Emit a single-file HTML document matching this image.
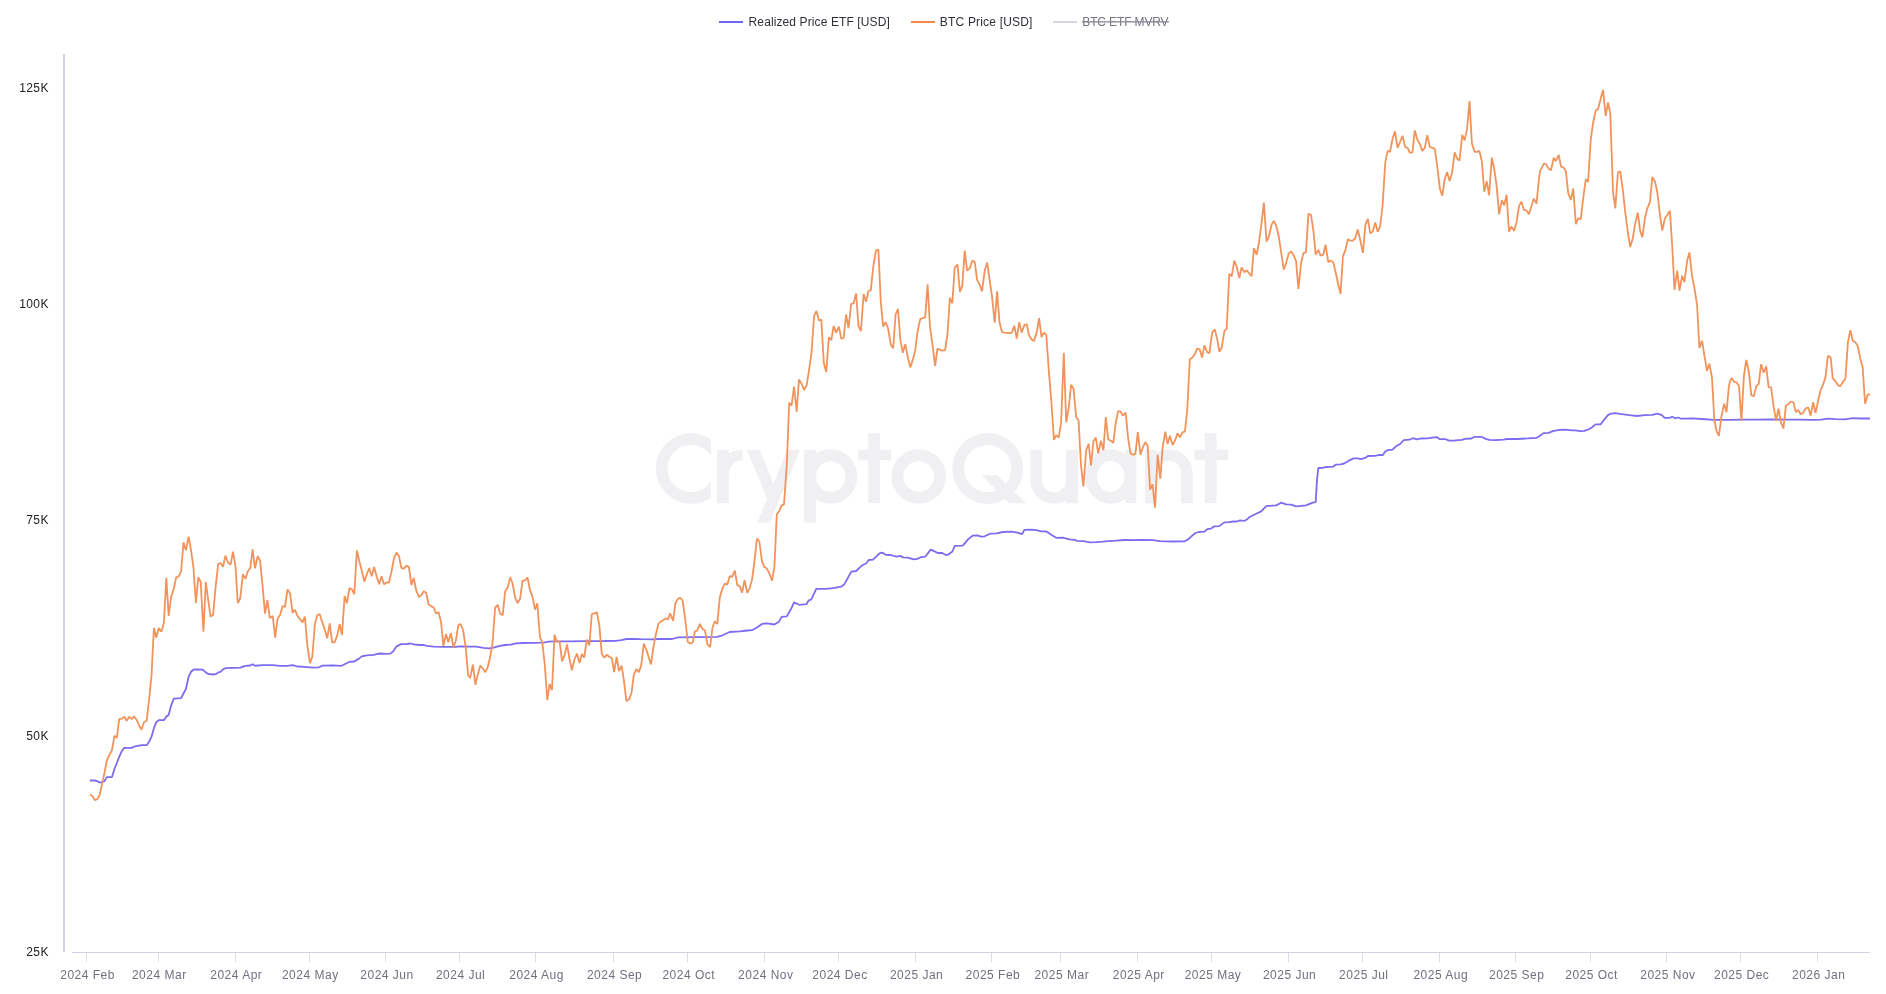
<!DOCTYPE html>
<html><head><meta charset="utf-8"><title>chart</title>
<style>
html,body{margin:0;padding:0;background:#fff;}
body{width:1886px;height:994px;overflow:hidden;font-family:"Liberation Sans",sans-serif;}
svg{display:block}
.xl{font-family:"Liberation Sans",sans-serif;font-size:12px;fill:#70707e;letter-spacing:0.5px}
.yl{font-family:"Liberation Sans",sans-serif;font-size:12px;fill:#222228;letter-spacing:0.4px}
.lg{font-family:"Liberation Sans",sans-serif;font-size:12px;fill:#2f2f38;}
.wm{font-family:"Liberation Sans",sans-serif;font-size:97px;fill:#f1f1f4;stroke:#f1f1f4;stroke-width:3px;font-weight:normal}
</style></head><body>
<svg width="1886" height="994" viewBox="0 0 1886 994" style="will-change:transform">
<g id="wm" fill="#f0f0f3" stroke="none">
<defs><clipPath id="cc"><rect x="640" y="420" width="71" height="100"/></clipPath></defs>
<circle cx="691.1" cy="468.5" r="29.45" fill="none" stroke="#f0f0f3" stroke-width="11.8" clip-path="url(#cc)"/>
<rect x="717.05" y="449.7" width="11.75" height="53.5"/>
<path d="M722.9,482 C722.9,463 731,455 742.5,455" fill="none" stroke="#f0f0f3" stroke-width="10.6"/>
<polygon points="746.8,449.7 759.5,449.7 779.8,498.6 767.1,498.6"/>
<polygon points="787.4,449.7 800.1,449.7 769.9,522.6 757.1,522.6"/>
<rect x="804.1" y="449.7" width="11.9" height="72.9"/>
<ellipse cx="830.7" cy="476.5" rx="20.6" ry="21.3" fill="none" stroke="#f0f0f3" stroke-width="12"/>
<rect x="868.2" y="433.2" width="11.7" height="70"/>
<rect x="858.1" y="449.7" width="33" height="10.5"/>
<circle cx="918.7" cy="476.5" r="21.3" fill="none" stroke="#f0f0f3" stroke-width="12"/>
<circle cx="987.7" cy="468.5" r="29.5" fill="none" stroke="#f0f0f3" stroke-width="11.8"/>
<polygon points="981.1,474.9 997,474.9 1026.5,503.2 1009,503.2"/>
<path d="M1036.2,449.7 V480.1 A17.9,17.9 0 0 0 1072,480.1 V449.7" fill="none" stroke="#f0f0f3" stroke-width="11.6"/>
<rect x="1066.2" y="449.7" width="11.5" height="53.5"/>
<ellipse cx="1110.75" cy="476.5" rx="19.6" ry="21.3" fill="none" stroke="#f0f0f3" stroke-width="11.8"/>
<rect x="1125.1" y="449.7" width="11.1" height="53.5"/>
<rect x="1145" y="449.7" width="11.6" height="53.5"/>
<path d="M1150.8,503.2 V473 A18.05,18.05 0 0 1 1186.9,473 V503.2" fill="none" stroke="#f0f0f3" stroke-width="11.6"/>
<rect x="1204.9" y="433.2" width="11.7" height="70"/>
<rect x="1194.6" y="449.7" width="33.6" height="10.5"/>
</g>
<rect x="63" y="54" width="2" height="898" fill="#d3d2e1"/>
<rect x="72" y="952" width="1798" height="1" fill="#d3d2e1"/>
<rect x="86" y="953" width="1" height="9" fill="#dcdce8"/><rect x="158" y="953" width="1" height="9" fill="#dcdce8"/><rect x="235" y="953" width="1" height="9" fill="#dcdce8"/><rect x="309" y="953" width="1" height="9" fill="#dcdce8"/><rect x="385" y="953" width="1" height="9" fill="#dcdce8"/><rect x="459" y="953" width="1" height="9" fill="#dcdce8"/><rect x="535" y="953" width="1" height="9" fill="#dcdce8"/><rect x="613" y="953" width="1" height="9" fill="#dcdce8"/><rect x="687" y="953" width="1" height="9" fill="#dcdce8"/><rect x="764" y="953" width="1" height="9" fill="#dcdce8"/><rect x="838" y="953" width="1" height="9" fill="#dcdce8"/><rect x="915" y="953" width="1" height="9" fill="#dcdce8"/><rect x="991" y="953" width="1" height="9" fill="#dcdce8"/><rect x="1060" y="953" width="1" height="9" fill="#dcdce8"/><rect x="1137" y="953" width="1" height="9" fill="#dcdce8"/><rect x="1211" y="953" width="1" height="9" fill="#dcdce8"/><rect x="1288" y="953" width="1" height="9" fill="#dcdce8"/><rect x="1362" y="953" width="1" height="9" fill="#dcdce8"/><rect x="1439" y="953" width="1" height="9" fill="#dcdce8"/><rect x="1515" y="953" width="1" height="9" fill="#dcdce8"/><rect x="1590" y="953" width="1" height="9" fill="#dcdce8"/><rect x="1666" y="953" width="1" height="9" fill="#dcdce8"/><rect x="1740" y="953" width="1" height="9" fill="#dcdce8"/><rect x="1817" y="953" width="1" height="9" fill="#dcdce8"/>
<text x="87.6" y="978.5" text-anchor="middle" class="xl">2024 Feb</text><text x="159.3" y="978.5" text-anchor="middle" class="xl">2024 Mar</text><text x="236.3" y="978.5" text-anchor="middle" class="xl">2024 Apr</text><text x="310.3" y="978.5" text-anchor="middle" class="xl">2024 May</text><text x="387.0" y="978.5" text-anchor="middle" class="xl">2024 Jun</text><text x="460.6" y="978.5" text-anchor="middle" class="xl">2024 Jul</text><text x="536.6" y="978.5" text-anchor="middle" class="xl">2024 Aug</text><text x="614.6" y="978.5" text-anchor="middle" class="xl">2024 Sep</text><text x="688.8" y="978.5" text-anchor="middle" class="xl">2024 Oct</text><text x="765.8" y="978.5" text-anchor="middle" class="xl">2024 Nov</text><text x="840.0" y="978.5" text-anchor="middle" class="xl">2024 Dec</text><text x="916.6" y="978.5" text-anchor="middle" class="xl">2025 Jan</text><text x="992.9" y="978.5" text-anchor="middle" class="xl">2025 Feb</text><text x="1061.8" y="978.5" text-anchor="middle" class="xl">2025 Mar</text><text x="1138.8" y="978.5" text-anchor="middle" class="xl">2025 Apr</text><text x="1213.0" y="978.5" text-anchor="middle" class="xl">2025 May</text><text x="1289.6" y="978.5" text-anchor="middle" class="xl">2025 Jun</text><text x="1363.8" y="978.5" text-anchor="middle" class="xl">2025 Jul</text><text x="1440.8" y="978.5" text-anchor="middle" class="xl">2025 Aug</text><text x="1516.7" y="978.5" text-anchor="middle" class="xl">2025 Sep</text><text x="1591.6" y="978.5" text-anchor="middle" class="xl">2025 Oct</text><text x="1667.9" y="978.5" text-anchor="middle" class="xl">2025 Nov</text><text x="1741.7" y="978.5" text-anchor="middle" class="xl">2025 Dec</text><text x="1818.7" y="978.5" text-anchor="middle" class="xl">2026 Jan</text>
<text x="48.8" y="91.8" text-anchor="end" class="yl">125K</text><text x="48.8" y="307.8" text-anchor="end" class="yl">100K</text><text x="48.8" y="523.8" text-anchor="end" class="yl">75K</text><text x="48.8" y="739.8" text-anchor="end" class="yl">50K</text><text x="48.8" y="955.8" text-anchor="end" class="yl">25K</text>
<g fill="none" stroke-linejoin="bevel" stroke-linecap="butt">
<path d="M89.9,780.5 L94.7,780.5 L97.2,781.1 L99.6,782.6 L102.3,782.0 L104.4,781.4 L106.8,777.1 L112.0,777.1 L114.4,769.0 L116.8,763.0 L119.2,756.9 L121.9,750.9 L124.3,747.9 L131.6,747.9 L134.0,746.7 L141.5,745.2 L146.7,745.2 L149.1,741.8 L151.5,736.7 L153.9,728.2 L156.3,722.2 L158.7,720.1 L163.9,720.1 L166.3,716.8 L168.7,714.7 L171.1,705.6 L173.8,698.7 L181.1,698.1 L183.5,693.5 L185.9,689.0 L188.6,676.9 L191.0,671.8 L193.4,669.7 L195.9,669.4 L202.8,669.7 L205.8,672.4 L208.2,673.9 L213.1,674.5 L216.4,673.9 L218.2,672.4 L220.6,671.8 L223.0,669.4 L225.4,668.2 L233.0,667.9 L240.5,667.6 L242.9,666.7 L245.4,665.8 L250.2,665.5 L252.6,664.3 L255.0,665.8 L257.7,665.5 L263.2,665.2 L269.8,665.2 L272.7,665.1 L279.9,665.8 L287.2,665.8 L292.6,665.1 L297.5,666.5 L304.9,666.9 L312.5,667.6 L318.9,667.3 L322.5,665.6 L332.4,665.3 L341.5,665.8 L345.1,664.0 L349.5,661.8 L354.2,661.5 L358.7,658.9 L361.8,656.4 L366.8,655.3 L374.1,654.9 L376.8,654.0 L381.3,653.5 L384.9,653.9 L390.4,653.7 L393.1,651.3 L396.5,646.4 L401.2,644.1 L406.7,644.1 L410.3,643.5 L413.9,644.4 L419.4,645.0 L423.9,645.0 L426.6,645.9 L433.8,646.6 L442.9,646.8 L455.6,646.8 L461.0,646.3 L470.1,646.6 L476.3,646.6 L483.5,647.9 L489.0,648.4 L492.6,647.9 L499.8,645.9 L505.3,645.0 L510.7,644.6 L516.1,643.4 L523.4,643.0 L532.4,642.8 L543.3,642.6 L548.7,641.7 L554.2,641.4 L568.7,641.4 L586.8,641.2 L604.9,641.0 L615.7,640.8 L621.2,640.1 L626.6,639.0 L633.8,638.8 L641.1,639.2 L652.0,639.4 L659.2,639.0 L670.1,639.0 L672.1,639.0 L678.1,637.4 L696.2,637.1 L717.3,636.8 L722.5,635.3 L729.7,632.0 L739.7,631.4 L747.5,630.5 L752.1,630.2 L756.9,627.5 L762.0,623.9 L766.8,623.3 L774.4,624.5 L779.2,621.4 L781.6,616.9 L786.8,616.3 L791.6,607.9 L794.0,602.4 L799.1,604.8 L806.4,604.2 L808.8,600.3 L811.2,599.7 L816.3,588.9 L826.0,588.9 L833.5,588.2 L841.1,586.7 L844.1,584.6 L851.3,571.6 L856.2,571.0 L860.1,567.1 L862.8,565.0 L866.1,563.5 L868.7,560.0 L873.0,559.6 L878.0,554.8 L880.7,552.6 L883.0,553.0 L885.7,554.8 L890.4,555.0 L896.5,556.7 L900.4,555.9 L903.0,557.4 L907.4,557.6 L913.9,559.3 L917.2,558.9 L920.9,557.2 L925.2,556.7 L930.7,549.6 L933.5,550.9 L937.8,553.0 L942.2,553.0 L945.4,554.8 L948.0,554.8 L952.4,551.5 L954.8,545.9 L962.8,545.7 L968.3,539.1 L972.6,535.7 L977.0,535.4 L981.3,536.7 L984.6,536.3 L990.0,533.7 L996.5,533.3 L1003.0,532.0 L1011.7,531.7 L1017.2,532.6 L1022.2,534.1 L1024.3,529.8 L1031.3,529.6 L1036.7,530.2 L1041.1,531.3 L1046.5,531.5 L1052.0,535.2 L1056.3,537.8 L1062.8,537.6 L1069.3,539.3 L1074.8,539.8 L1077.0,540.9 L1083.5,541.1 L1090.0,542.4 L1096.5,542.2 L1103.0,541.7 L1107.4,541.1 L1116.1,540.7 L1124.8,540.0 L1133.5,540.2 L1141.1,539.8 L1153.0,540.2 L1159.6,541.1 L1172.6,541.5 L1184.6,541.3 L1187.8,539.6 L1192.2,535.7 L1195.4,533.0 L1198.7,532.0 L1204.1,531.7 L1207.4,529.1 L1210.7,528.7 L1214.3,526.3 L1219.3,526.1 L1224.3,522.4 L1229.1,522.2 L1233.5,521.5 L1236.7,521.5 L1240.0,520.4 L1244.3,520.9 L1247.6,518.9 L1250.0,516.7 L1256.2,513.7 L1261.2,511.4 L1266.2,506.1 L1276.2,505.4 L1281.1,502.7 L1286.1,504.4 L1291.1,504.7 L1296.1,506.4 L1306.0,505.4 L1312.7,502.7 L1315.7,502.1 L1317.0,479.9 L1318.3,468.0 L1322.9,467.9 L1325.5,467.0 L1333.1,466.7 L1335.6,464.7 L1340.7,464.3 L1344.1,463.5 L1348.4,460.9 L1353.4,458.4 L1357.7,458.4 L1360.7,459.1 L1365.3,457.9 L1367.9,456.0 L1374.7,455.8 L1379.7,454.8 L1382.8,455.2 L1384.8,452.1 L1387.4,450.2 L1392.5,449.7 L1395.9,446.3 L1400.1,444.0 L1403.8,440.1 L1409.4,439.7 L1412.8,438.2 L1417.1,439.4 L1420.5,438.5 L1427.3,438.4 L1432.3,437.7 L1437.1,437.2 L1439.5,439.0 L1445.1,439.2 L1449.3,440.6 L1454.4,440.7 L1457.8,440.1 L1462.0,439.9 L1464.6,438.9 L1471.4,438.5 L1474.8,436.8 L1481.5,436.8 L1485.8,438.9 L1489.2,439.9 L1495.1,440.1 L1503.6,439.7 L1507.0,439.0 L1517.2,439.0 L1527.4,438.4 L1536.7,437.8 L1540.1,435.8 L1543.5,433.1 L1548.6,432.9 L1552.8,431.2 L1559.6,429.9 L1565.5,429.7 L1571.5,430.4 L1575.7,430.4 L1580.0,431.1 L1584.2,430.9 L1588.4,429.5 L1591.8,427.5 L1595.6,424.4 L1600.7,424.3 L1603.7,420.2 L1608.0,415.1 L1610.5,413.8 L1614.7,413.2 L1620.0,413.8 L1621.8,414.1 L1629.4,415.2 L1637.0,416.0 L1644.7,415.2 L1652.3,414.8 L1657.3,413.7 L1661.9,415.2 L1664.6,417.9 L1669.5,417.9 L1672.2,416.7 L1675.3,418.3 L1678.3,417.5 L1681.0,418.7 L1686.7,418.7 L1692.5,418.3 L1702.0,419.0 L1713.5,419.8 L1729.9,419.8 L1742.3,419.6 L1756.3,419.6 L1770.4,419.4 L1784.5,419.6 L1798.6,419.6 L1812.7,419.9 L1821.1,419.6 L1828.2,418.7 L1835.2,419.2 L1845.1,419.4 L1852.8,418.2 L1860.6,418.5 L1870.0,418.5" stroke="#7b6cf0" stroke-width="1.8"/>
<path d="M89.9,794.6 L92.6,796.2 L94.7,800.1 L97.2,799.2 L99.6,795.3 L102.3,782.6 L104.7,772.0 L106.8,760.5 L109.5,754.8 L112.0,750.0 L114.4,735.8 L116.8,737.9 L119.2,719.2 L121.9,718.6 L124.3,716.8 L126.7,720.7 L129.2,716.8 L131.6,719.2 L134.0,716.2 L136.7,720.1 L139.1,725.2 L141.5,729.8 L143.9,722.2 L146.7,720.7 L149.1,699.6 L151.5,675.4 L153.9,628.0 L156.3,637.7 L158.7,628.0 L161.4,631.7 L163.9,622.6 L166.3,577.9 L168.7,616.0 L171.1,597.0 L173.8,588.8 L176.2,577.3 L178.7,576.4 L181.1,571.3 L183.5,542.6 L185.9,550.2 L188.6,536.6 L191.0,550.2 L193.4,566.8 L195.9,603.0 L198.3,577.3 L200.7,581.9 L203.4,631.7 L205.8,581.9 L208.2,600.0 L210.6,616.6 L213.1,615.1 L215.5,587.9 L218.2,563.8 L220.6,563.2 L223.0,566.8 L225.4,555.6 L227.8,562.3 L230.6,564.7 L233.0,551.7 L235.4,565.3 L237.8,603.0 L240.2,598.5 L242.9,574.3 L245.4,578.9 L247.8,571.3 L250.2,568.3 L252.6,549.3 L255.0,568.3 L257.7,556.2 L260.1,560.7 L262.6,586.4 L265.0,613.6 L267.4,600.0 L269.8,618.1 L272.7,616.0 L275.2,637.7 L277.6,618.7 L280.1,615.1 L282.6,606.1 L285.0,607.0 L287.5,589.4 L290.1,593.4 L292.6,612.9 L294.9,609.7 L297.5,616.0 L300.0,619.1 L302.6,622.4 L304.9,616.6 L307.4,645.9 L310.0,663.1 L312.3,656.8 L314.9,624.2 L317.2,615.1 L319.8,614.2 L322.3,622.4 L324.8,629.6 L327.2,638.3 L329.7,623.3 L332.1,642.3 L334.6,642.3 L337.1,635.9 L339.7,624.2 L342.0,635.0 L344.6,596.1 L346.9,603.3 L349.5,587.9 L352.0,589.4 L354.3,594.3 L356.9,550.5 L359.2,560.8 L361.8,570.7 L364.3,581.6 L366.8,574.4 L369.2,568.0 L371.7,576.2 L374.1,567.1 L376.6,576.2 L379.2,584.3 L381.5,576.2 L384.0,584.3 L386.6,582.5 L388.9,582.5 L391.5,571.6 L394.0,558.1 L396.5,552.6 L398.9,555.9 L401.4,568.0 L404.0,568.6 L406.3,565.7 L408.9,566.8 L411.4,585.2 L413.7,578.0 L416.3,590.7 L418.8,597.0 L421.2,595.2 L423.7,591.2 L426.1,592.8 L428.6,604.2 L431.1,606.1 L433.7,607.5 L436.0,613.3 L438.6,612.4 L441.1,622.4 L443.4,645.9 L446.0,634.1 L448.3,642.3 L450.9,633.2 L453.4,647.3 L455.9,640.5 L458.3,625.1 L460.6,624.2 L463.2,630.5 L465.7,647.7 L468.1,674.9 L470.1,678.1 L472.9,664.5 L475.4,684.8 L477.7,674.9 L480.3,665.5 L482.8,668.5 L485.4,672.2 L487.7,667.3 L490.2,656.8 L492.6,642.3 L495.1,607.9 L497.7,604.8 L500.2,613.7 L502.7,615.1 L505.1,591.6 L507.6,587.6 L510.2,577.4 L512.7,584.0 L515.2,597.9 L517.6,603.0 L520.1,598.8 L522.5,580.7 L525.0,580.7 L527.5,577.4 L529.9,589.8 L532.4,596.1 L535.0,609.7 L537.3,603.3 L539.9,636.8 L542.4,643.2 L544.7,664.0 L547.3,700.2 L549.6,683.9 L552.0,690.3 L554.5,634.7 L557.1,641.9 L559.6,641.4 L562.1,661.3 L564.7,654.9 L567.0,644.4 L569.6,659.5 L571.9,670.3 L574.4,659.5 L577.0,653.7 L579.5,663.1 L581.9,654.0 L584.2,657.7 L586.8,639.6 L589.3,645.5 L591.8,614.2 L594.4,613.3 L596.9,612.4 L599.3,625.1 L601.8,654.0 L604.3,657.7 L606.7,654.6 L609.2,656.8 L611.8,658.0 L614.1,672.2 L616.6,656.8 L619.0,671.2 L621.5,665.5 L623.9,680.3 L626.4,701.1 L629.0,699.3 L631.5,693.0 L633.8,674.9 L636.4,669.1 L638.9,672.2 L641.3,664.9 L643.8,643.7 L646.3,649.5 L651.0,664.4 L653.6,645.9 L656.1,633.2 L658.5,623.6 L661.0,621.4 L663.5,620.0 L666.1,618.2 L668.1,619.6 L670.1,613.3 L673.0,620.8 L675.4,603.3 L677.8,598.8 L680.2,597.9 L682.6,600.3 L685.1,618.4 L687.8,642.0 L690.2,643.5 L692.6,642.6 L695.0,631.4 L697.4,630.5 L699.8,623.9 L702.6,629.0 L705.0,630.5 L707.4,644.1 L710.1,647.1 L712.5,627.5 L714.9,621.4 L717.3,623.9 L719.8,597.3 L722.5,588.2 L724.9,583.7 L727.3,584.6 L729.7,576.2 L732.1,576.8 L734.8,570.7 L737.3,585.2 L739.7,586.1 L742.1,592.8 L744.5,580.1 L747.2,592.8 L749.6,588.2 L752.1,579.2 L754.5,561.1 L756.9,538.5 L759.3,541.5 L762.0,561.1 L764.4,567.1 L766.8,568.6 L769.3,573.2 L772.0,580.7 L774.4,567.1 L776.8,514.3 L779.2,511.3 L781.6,505.3 L784.0,504.6 L786.8,464.5 L789.2,402.6 L791.6,405.7 L794.0,386.6 L796.7,411.7 L799.0,379.4 L801.7,383.9 L804.1,390.0 L806.6,385.4 L809.0,370.3 L811.4,353.7 L814.1,316.0 L816.5,310.9 L818.9,320.5 L821.3,319.6 L823.8,362.8 L826.2,371.9 L828.9,337.1 L831.3,340.2 L833.7,326.0 L836.1,332.6 L838.9,326.6 L841.3,338.7 L843.7,338.0 L846.1,314.5 L848.5,328.1 L851.2,303.9 L853.6,303.3 L856.1,293.4 L858.5,326.0 L860.9,331.1 L863.6,294.0 L866.0,301.8 L868.4,291.0 L870.8,290.4 L873.3,266.2 L876.0,250.5 L878.4,249.6 L880.8,302.4 L883.2,326.6 L885.6,322.1 L888.0,328.1 L890.8,344.7 L893.2,348.3 L895.6,314.5 L898.0,309.1 L900.4,340.2 L902.8,352.8 L905.3,344.1 L908.0,358.3 L910.4,367.3 L912.8,359.8 L915.2,350.7 L917.6,331.1 L920.3,319.0 L922.8,318.1 L925.2,317.5 L927.6,284.3 L930.0,327.2 L932.7,346.2 L935.1,365.8 L937.5,348.6 L940.0,349.8 L942.4,350.7 L945.1,350.1 L947.5,334.1 L949.9,297.9 L952.3,303.3 L954.7,267.7 L957.5,264.7 L959.9,291.9 L962.3,285.8 L964.7,250.5 L967.1,270.7 L969.8,268.3 L972.3,260.8 L974.7,261.7 L977.1,279.8 L979.5,284.3 L982.0,291.3 L984.7,270.7 L987.2,262.6 L989.6,279.8 L992.0,296.4 L994.7,322.7 L997.1,291.3 L999.5,322.1 L1002.0,332.0 L1004.4,332.6 L1009.5,333.2 L1011.9,332.6 L1014.3,325.7 L1016.7,338.7 L1019.2,322.1 L1021.6,332.6 L1024.3,325.1 L1026.7,324.2 L1029.1,335.6 L1031.5,339.3 L1033.9,341.1 L1036.7,332.6 L1039.1,318.1 L1041.5,337.1 L1043.9,332.6 L1046.3,335.0 L1049.0,373.4 L1051.4,402.0 L1053.9,439.8 L1056.3,435.2 L1058.7,437.6 L1061.1,423.2 L1063.8,352.8 L1066.2,422.3 L1068.7,408.1 L1071.1,384.8 L1073.5,388.5 L1076.2,417.1 L1078.6,420.7 L1081.0,465.4 L1083.4,486.5 L1086.2,450.3 L1088.6,443.7 L1091.0,465.4 L1093.4,441.3 L1095.8,437.6 L1098.2,453.3 L1100.9,440.7 L1103.4,450.3 L1105.8,417.1 L1108.2,439.2 L1110.6,440.7 L1113.3,442.8 L1115.7,423.2 L1118.1,411.1 L1120.6,411.7 L1123.0,415.6 L1125.7,412.6 L1128.1,438.2 L1130.5,453.3 L1132.9,454.8 L1135.4,453.9 L1137.8,432.2 L1140.5,454.8 L1142.9,447.3 L1145.3,442.2 L1147.7,445.8 L1150.1,489.6 L1152.6,484.4 L1155.0,507.7 L1157.7,454.8 L1160.3,478.8 L1162.6,447.3 L1165.3,431.7 L1167.6,444.0 L1169.9,435.7 L1172.6,445.0 L1174.9,440.7 L1177.6,433.4 L1179.9,437.3 L1182.5,432.4 L1184.9,431.7 L1187.2,410.8 L1189.8,359.3 L1192.2,357.7 L1194.8,354.3 L1197.1,348.7 L1199.8,349.4 L1202.1,357.7 L1204.4,345.4 L1207.1,352.0 L1209.4,353.3 L1212.1,332.8 L1214.7,329.4 L1217.1,338.7 L1219.4,351.7 L1221.7,347.7 L1224.4,331.1 L1226.7,328.8 L1229.3,273.7 L1231.7,276.3 L1234.3,260.7 L1236.6,266.4 L1239.3,278.0 L1241.6,267.4 L1244.3,272.3 L1246.6,270.3 L1248.9,273.0 L1251.6,276.3 L1253.9,248.1 L1256.6,254.7 L1258.9,243.1 L1261.5,223.2 L1263.9,202.6 L1266.5,241.5 L1268.9,236.5 L1271.5,224.9 L1273.8,220.9 L1276.2,225.9 L1278.8,236.5 L1281.5,254.7 L1283.8,269.7 L1286.1,263.0 L1288.8,253.1 L1291.1,251.4 L1293.8,255.7 L1296.1,261.4 L1298.4,288.9 L1301.1,263.0 L1303.4,253.1 L1306.0,252.4 L1308.4,213.9 L1311.0,214.9 L1313.3,229.8 L1315.7,254.7 L1318.3,249.8 L1320.6,255.7 L1323.3,254.7 L1325.6,244.8 L1328.3,262.4 L1330.6,260.4 L1333.3,262.4 L1335.6,272.3 L1337.9,283.0 L1340.6,293.9 L1342.9,256.4 L1345.5,249.8 L1347.9,239.1 L1349.9,240.5 L1353.0,240.6 L1355.4,237.8 L1357.8,229.4 L1360.2,240.0 L1362.9,252.9 L1365.4,224.9 L1367.8,218.8 L1370.2,233.3 L1372.6,231.8 L1375.3,222.5 L1377.7,231.8 L1380.1,226.4 L1382.6,205.3 L1385.3,162.4 L1387.7,150.9 L1390.1,151.8 L1392.5,138.9 L1394.9,131.3 L1397.6,147.9 L1400.1,141.9 L1402.5,135.8 L1405.2,147.0 L1407.6,147.9 L1410.0,153.0 L1412.4,152.4 L1414.8,130.4 L1417.6,140.4 L1420.0,144.3 L1422.4,150.9 L1424.8,147.9 L1427.2,135.2 L1429.9,147.0 L1432.4,147.9 L1434.8,148.8 L1437.2,166.0 L1439.9,188.7 L1442.3,195.6 L1444.7,179.0 L1447.1,172.1 L1449.6,181.1 L1452.0,173.0 L1454.7,152.4 L1457.1,158.5 L1459.5,160.6 L1462.2,134.9 L1464.6,140.4 L1467.1,128.9 L1469.5,101.1 L1471.9,143.4 L1474.6,151.8 L1477.0,151.8 L1479.4,150.9 L1481.9,161.5 L1484.3,191.7 L1486.7,181.1 L1489.1,195.3 L1491.8,157.6 L1494.2,169.0 L1496.6,185.6 L1499.1,214.3 L1501.8,200.1 L1504.2,205.3 L1506.6,194.7 L1509.0,231.8 L1511.4,226.4 L1514.1,230.9 L1516.6,221.9 L1519.0,206.2 L1521.4,201.6 L1523.8,209.8 L1526.5,210.4 L1528.9,214.3 L1531.3,206.8 L1533.8,198.6 L1536.5,203.7 L1538.9,179.6 L1540.1,170.5 L1541.1,169.4 L1543.8,163.7 L1546.1,164.4 L1548.7,168.6 L1551.0,170.2 L1553.7,157.9 L1556.0,161.0 L1558.7,154.9 L1561.0,166.7 L1563.6,167.5 L1565.9,171.3 L1568.2,193.1 L1570.9,200.0 L1573.2,188.5 L1575.9,224.1 L1578.2,218.3 L1580.8,219.1 L1583.1,199.2 L1585.8,179.0 L1588.1,182.0 L1590.8,138.8 L1593.1,122.8 L1595.8,110.1 L1598.0,109.4 L1600.7,98.7 L1603.0,89.9 L1605.7,115.9 L1608.0,102.5 L1610.3,114.0 L1613.0,191.6 L1615.3,208.4 L1617.9,172.5 L1620.2,171.3 L1622.9,190.4 L1625.2,212.2 L1627.9,232.5 L1630.2,247.0 L1632.8,238.2 L1635.1,224.1 L1637.8,212.6 L1640.1,230.6 L1642.4,237.1 L1645.1,217.2 L1647.4,208.4 L1650.0,201.9 L1652.3,177.0 L1655.0,181.6 L1657.3,192.3 L1660.0,215.3 L1662.3,230.6 L1664.9,218.3 L1667.2,215.3 L1669.9,210.7 L1672.2,245.9 L1674.5,289.8 L1677.2,270.7 L1679.5,290.6 L1682.2,275.7 L1684.4,282.2 L1687.1,261.1 L1689.4,252.4 L1692.1,276.4 L1694.4,287.9 L1697.1,305.1 L1699.4,347.9 L1702.0,340.7 L1704.3,354.8 L1707.0,370.9 L1709.3,363.6 L1712.0,377.7 L1714.3,419.8 L1716.6,431.3 L1718.9,435.9 L1721.5,416.0 L1724.2,403.7 L1726.5,412.2 L1728.8,387.3 L1729.9,381.6 L1731.5,378.0 L1734.1,381.8 L1736.6,382.5 L1739.0,386.1 L1741.4,420.6 L1743.9,376.2 L1746.3,360.0 L1748.9,372.0 L1751.3,395.2 L1753.8,396.2 L1756.3,386.1 L1758.7,383.9 L1761.1,364.2 L1763.7,372.7 L1766.2,366.3 L1768.6,387.2 L1771.1,387.5 L1773.5,405.8 L1776.1,420.6 L1778.5,408.6 L1781.0,422.7 L1783.4,428.3 L1785.9,405.8 L1788.5,404.1 L1790.8,401.5 L1793.4,402.3 L1795.8,412.1 L1798.2,410.0 L1800.7,414.2 L1803.2,412.8 L1805.6,408.3 L1808.2,407.5 L1810.6,415.6 L1813.1,402.3 L1815.5,412.8 L1818.0,401.5 L1820.4,391.0 L1823.0,384.6 L1825.4,377.6 L1827.9,355.8 L1830.7,357.6 L1832.8,378.6 L1835.2,380.8 L1838.0,385.4 L1840.4,386.1 L1843.0,381.8 L1845.4,379.0 L1847.9,342.4 L1850.3,330.1 L1852.8,341.0 L1855.2,342.1 L1857.7,345.9 L1860.1,357.9 L1862.7,367.7 L1865.1,403.7 L1867.6,394.9 L1870.0,394.1" stroke="#f1935a" stroke-width="1.8"/>
</g>
<!-- legend -->
<rect x="719" y="21" width="24" height="2" fill="#7566ee"/>
<text x="748.6" y="25.8" class="lg" textLength="141.2" lengthAdjust="spacing">Realized Price ETF [USD]</text>
<rect x="911" y="21" width="24" height="2" fill="#f48a48"/>
<text x="939.8" y="25.8" class="lg" textLength="92.6" lengthAdjust="spacing">BTC Price [USD]</text>
<rect x="1053" y="21" width="24" height="2" fill="#d6d6e0"/>
<text x="1082.3" y="25.8" class="lg" style="fill:#757585" textLength="86.3" lengthAdjust="spacing">BTC ETF MVRV</text>
<rect x="1082" y="21.2" width="87" height="1.3" fill="#8a8a98"/>
</svg>
</body></html>
